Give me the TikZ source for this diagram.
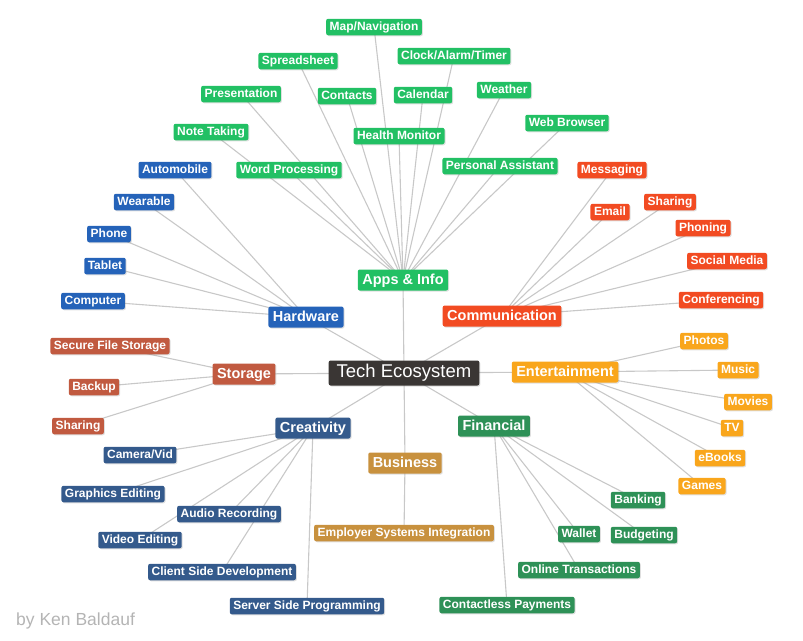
\documentclass[tikz,border=0pt]{standalone}
\usepackage{fontspec}
\setmainfont{Liberation Sans}
\usetikzlibrary{backgrounds,shadows}
\definecolor{cgreen}{HTML}{22C064}
\definecolor{chw}{HTML}{2563B9}
\definecolor{cstor}{HTML}{C15A40}
\definecolor{ccre}{HTML}{345A8C}
\definecolor{cbus}{HTML}{C8913E}
\definecolor{cfin}{HTML}{2E9157}
\definecolor{ccom}{HTML}{F24B22}
\definecolor{cent}{HTML}{F9A61C}
\definecolor{ccen}{HTML}{3A3634}
\definecolor{cline}{HTML}{C8C8C8}
\definecolor{csig}{HTML}{B4B4B4}
\begin{document}
\begin{tikzpicture}[x=1pt,y=-1pt,
  box/.style={rounded corners=2pt,fill=#1,text=white,
    drop shadow={opacity=0.25,shadow xshift=1pt,shadow yshift=-1pt}},
  leaf/.style={box=#1,font=\fontsize{12}{14}\selectfont\bfseries,inner xsep=3.5pt,
    inner ysep=2.25pt,text height=9.5pt,text depth=2.5pt},
  cat/.style={box=#1,font=\fontsize{14.5}{17}\selectfont\bfseries,inner xsep=4.5pt,
    inner ysep=3pt,text height=11.5pt,text depth=3.5pt},
  hub/.style={box=ccen,font=\fontsize{18.5}{20}\selectfont,inner xsep=8pt,
    inner ysep=3.75pt,text height=13.5pt,text depth=4pt},
  link/.style={draw=cline,line width=1.1pt}]
\useasboundingbox (0,0) rectangle (803,640);
% hub and categories
\node[hub] (tech) at (404,373) {Tech Ecosystem};
\node[cat=cgreen] (apps) at (403,280) {Apps \& Info};
\node[cat=chw] (hw) at (306,317) {Hardware};
\node[cat=ccom] (com) at (502,316) {Communication};
\node[cat=cstor] (stor) at (244,374) {Storage};
\node[cat=cent] (ent) at (565,372) {Entertainment};
\node[cat=ccre] (cre) at (313,428) {Creativity};
\node[cat=cfin] (fin) at (494,426) {Financial};
\node[cat=cbus] (bus) at (405,463) {Business};
% apps
\node[leaf=cgreen] (map) at (374,27) {Map/Navigation};
\node[leaf=cgreen] (spr) at (298,61) {Spreadsheet};
\node[leaf=cgreen] (clk) at (454,56) {Clock/Alarm/Timer};
\node[leaf=cgreen] (pre) at (241,94) {Presentation};
\node[leaf=cgreen] (con) at (347,96) {Contacts};
\node[leaf=cgreen] (cal) at (423,95) {Calendar};
\node[leaf=cgreen] (wea) at (504,90) {Weather};
\node[leaf=cgreen] (web) at (567,123) {Web Browser};
\node[leaf=cgreen] (note) at (211,132) {Note Taking};
\node[leaf=cgreen] (hea) at (399,136) {Health Monitor};
\node[leaf=cgreen] (wor) at (289,170) {Word Processing};
\node[leaf=cgreen] (per) at (500,166) {Personal Assistant};
% hardware
\node[leaf=chw] (auto) at (175,170) {Automobile};
\node[leaf=chw] (wear) at (144,202) {Wearable};
\node[leaf=chw] (pho) at (109,234) {Phone};
\node[leaf=chw] (tab) at (105,266) {Tablet};
\node[leaf=chw] (comp) at (93,301) {Computer};
% storage
\node[leaf=cstor] (sec) at (110,346) {Secure File Storage};
\node[leaf=cstor] (back) at (94,387) {Backup};
\node[leaf=cstor] (sh1) at (78,426) {Sharing};
% creativity
\node[leaf=ccre] (cam) at (140,455) {Camera/Vid};
\node[leaf=ccre] (gra) at (113,494) {Graphics Editing};
\node[leaf=ccre] (aud) at (229,514) {Audio Recording};
\node[leaf=ccre] (vid) at (140,540) {Video Editing};
\node[leaf=ccre] (cli) at (222,572) {Client Side Development};
\node[leaf=ccre] (ser) at (307,606) {Server Side Programming};
% business
\node[leaf=cbus] (emp) at (404,533) {Employer Systems Integration};
% financial
\node[leaf=cfin] (bank) at (638,500) {Banking};
\node[leaf=cfin] (wal) at (579,534) {Wallet};
\node[leaf=cfin] (bud) at (644,535) {Budgeting};
\node[leaf=cfin] (onl) at (579,570) {Online Transactions};
\node[leaf=cfin] (cpay) at (507,605) {Contactless Payments};
% communication
\node[leaf=ccom] (msg) at (612,170) {Messaging};
\node[leaf=ccom] (ema) at (610,212) {Email};
\node[leaf=ccom] (sh2) at (670,202) {Sharing};
\node[leaf=ccom] (phn) at (703,228) {Phoning};
\node[leaf=ccom] (soc) at (727,261) {Social Media};
\node[leaf=ccom] (conf) at (721,300) {Conferencing};
% entertainment
\node[leaf=cent] (phot) at (704,341) {Photos};
\node[leaf=cent] (mus) at (738,370) {Music};
\node[leaf=cent] (mov) at (748,402) {Movies};
\node[leaf=cent] (tv) at (732,428) {TV};
\node[leaf=cent] (ebo) at (720,458) {eBooks};
\node[leaf=cent] (gam) at (702,486) {Games};
% signature
\node[font=\fontsize{17.5}{19}\selectfont,text=csig,anchor=west,inner sep=0pt] (sig) at (16,621) {by Ken Baldauf};
\begin{scope}[on background layer]
\foreach \c in {apps,hw,com,stor,ent,cre,fin,bus}
  \draw[link] (tech.center) -- (\c.center);
\foreach \l in {map,spr,clk,pre,con,cal,wea,web,note,hea,wor,per}
  \draw[link] (apps.center) -- (\l.center);
\foreach \l in {auto,wear,pho,tab,comp}
  \draw[link] (hw.center) -- (\l.center);
\foreach \l in {sec,back,sh1}
  \draw[link] (stor.center) -- (\l.center);
\foreach \l in {cam,gra,aud,vid,cli,ser}
  \draw[link] (cre.center) -- (\l.center);
\draw[link] (bus.center) -- (emp.center);
\foreach \l in {bank,wal,bud,onl,cpay}
  \draw[link] (fin.center) -- (\l.center);
\foreach \l in {msg,ema,sh2,phn,soc,conf}
  \draw[link] (com.center) -- (\l.center);
\foreach \l in {phot,mus,mov,tv,ebo,gam}
  \draw[link] (ent.center) -- (\l.center);
\end{scope}
\end{tikzpicture}
\end{document}
